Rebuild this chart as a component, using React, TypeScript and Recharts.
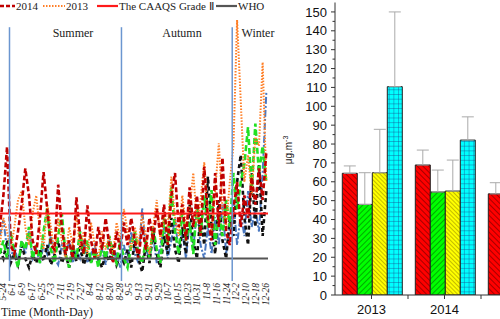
import React from 'react';
import {
    LineChart,
    Line,
    BarChart,
    Bar,
    ErrorBar,
    XAxis,
    YAxis,
    ReferenceLine
} from 'recharts';

// ---- left panel: daily series (every 3rd day, from 5-24) ----
const startDay = 144;
const dayStep = 3;

const series2014 = [
    60, 95, 149, 40, 30, 55, 85, 125, 95, 45,
    30, 70, 121, 80, 40, 35, 107, 60, 30, 45,
    25, 93, 50, 30, 84, 45, 25, 60, 35, 70,
    40, 20, 55, 35, 65, 40, 70, 45, 25, 60,
    35, 70, 45, 80, 50, 85, 40, 95, 120, 60,
    85, 45, 104, 60, 95, 50, 127, 70, 45, 120,
    60, 137, 55, 40, 80, 110, 60, 95, 70, 115,
    85, 125, 90, 143
];
const series2013 = [
    40, 70, 55, 35, 60, 90, 100, 60, 40, 75,
    95, 55, 35, 85, 60, 30, 70, 45, 25, 60,
    40, 75, 35, 55, 30, 65, 40, 25, 55, 35,
    50, 30, 65, 45, 80, 55, 35, 60, 40, 73,
    50, 30, 60, 90, 45, 70, 60, 116, 70, 50,
    95, 60, 80, 120, 65, 90, 132, 70, 55, 100,
    153, 80, 60, 110, 150, 290, 200, 110, 140, 95,
    160, 150, 243, 110
];
const seriesGreen = [
    30, 45, 25, 55, 30, 15, 45, 35, 60, 25,
    40, 20, 55, 81, 35, 20, 50, 75, 30, 15,
    40, 25, 55, 30, 45, 20, 35, 15, 40, 25,
    50, 30, 20, 45, 25, 15, 40, 55, 30, 20,
    45, 25, 60, 35, 20, 70, 40, 104, 55, 30,
    80, 45, 65, 30, 85, 50, 95, 60, 101, 40,
    75, 50, 90, 60, 120, 80, 110, 130, 171, 100,
    175, 120, 150, 110
];
const seriesBlack = [
    35, 25, 45, 20, 30, 18, 40, 25, 15, 30,
    20, 35, 22, 40, 18, 28, 45, 20, 30, 15,
    35, 22, 40, 18, 30, 20, 35, 25, 15, 30,
    22, 40, 18, 28, 20, 35, 15, 45, 25, 10,
    40, 20, 55, 30, 15, 50, 30, 70, 35, 20,
    60, 30, 85, 45, 25, 75, 40, 116, 60, 30,
    90, 45, 25, 70, 50, 110, 140, 70, 40, 120,
    60, 130, 50, 100
];
const seriesBlue = [
    50, 68, 35, 25, 40, 20, 45, 30, 55, 25,
    35, 20, 40, 30, 50, 25, 18, 40, 28, 45,
    20, 35, 25, 45, 20, 30, 40, 22, 35, 18,
    45, 25, 30, 15, 40, 20, 55, 30, 20, 81,
    35, 25, 50, 20, 40, 60, 25, 45, 70, 30,
    55, 25, 65, 35, 80, 40, 25, 60, 30, 71,
    40, 85, 30, 60, 90, 40, 75, 50, 100, 60,
    80, 55, 120, 209
];

const dayLabels = [
    '5-24', '6-1', '6-9', '6-17', '6-25', '7-3', '7-11', '7-19', '7-27',
    '8-4', '8-12', '8-20', '8-28', '9-5', '9-13', '9-21', '9-29', '10-7',
    '10-15', '10-23', '10-31', '11-8', '11-16', '11-24', '12-2', '12-10',
    '12-18', '12-26'
];
const seasonStarts = ['6-1', '9-1', '12-1'];
const seasonNames = ['Summer', 'Autumn', 'Winter'];
const caaqsLimit = 75;
const whoLimit = 25;

// ---- right panel: annual means ----
const years = ['2013', '2014', '2015'];
const redMean = [64.5, 68.9, 53.6];
const redErr = [3.9, 7.9, 5.9];
const greenMean = [48, 54.6, 45];
const greenErr = [16.8, 11.6, 10];
const yellowMean = [64.8, 55.1, 50];
const yellowErr = [23, 16.4, 12];
const cyanMean = [110.4, 82.1, 70];
const cyanErr = [39.6, 12.3, 15];
const valueTicks = [0, 10, 20, 30, 40, 50, 60, 70, 80, 90, 100, 110, 120, 130, 140, 150];

const monthStart = [0, 31, 59, 90, 120, 151, 181, 212, 243, 273, 304, 334];
const toDay = (md: string) => {
    const [m, d] = md.split('-').map(Number);
    return monthStart[m - 1] + d;
};
const tickDays = dayLabels.map(toDay);
const labelByDay: Record<number, string> = {};
dayLabels.forEach((l, i) => { labelByDay[tickDays[i]] = l; });

const lineData = series2014.map((v, i) => ({
    day: startDay + i * dayStep,
    y2014: v,
    y2013: series2013[i],
    green: seriesGreen[i],
    black: seriesBlack[i],
    blue: seriesBlue[i],
}));

const barData = years.map((y, i) => ({
    year: y,
    red: redMean[i], redErr: [0, redErr[i]],
    green: greenMean[i], greenErr: [0, greenErr[i]],
    yellow: yellowMean[i], yellowErr: [0, yellowErr[i]],
    cyan: cyanMean[i], cyanErr: [0, cyanErr[i]],
}));

const SERIF = '"Liberation Serif", "Times New Roman", serif';
const SANS = '"Liberation Sans", Arial, sans-serif';

// bar chart geometry
const BAR_W = 270;
const BAR_H = 319;
const barMargin = { top: 2.5, right: 6, bottom: 2, left: 15 };
const yAxisW = 30;
const xAxisH = 22;
const plotH = BAR_H - barMargin.top - barMargin.bottom - xAxisH;
const unitPx = plotH / 155;
const halfBand = (BAR_W - barMargin.left - yAxisW - barMargin.right) / years.length / 2;

const DayTick = (props: any) => {
    const { x, y, payload } = props;
    return (
        <text
            transform={`translate(${x + 3},${y}) rotate(-90)`}
            textAnchor="end"
            dominantBaseline="central"
            fontSize={9.5}
            fontStyle="italic"
            fontFamily={SERIF}
            fill="#222"
        >
            {labelByDay[payload.value]}
        </text>
    );
};

const ValueTick = (props: any) => {
    const { x, y, payload } = props;
    const axisX = x + 8;
    return (
        <g>
            <text x={x} y={y} dy="0.355em" textAnchor="end" fontSize={13} fontFamily={SANS} fill="#111">
                {payload.value}
            </text>
            {payload.value > 0 && (
                <line x1={axisX - 2.5} x2={axisX} y1={y + 5 * unitPx} y2={y + 5 * unitPx} stroke="#333" />
            )}
        </g>
    );
};

const YearTick = (props: any) => {
    const { x, y, payload } = props;
    const axisY = y - 10;
    return (
        <g>
            <text x={x} y={y} dy="0.71em" textAnchor="middle" fontSize={13} fontFamily={SANS} fill="#111">
                {payload.value}
            </text>
            <line x1={x + halfBand} x2={x + halfBand} y1={axisY} y2={axisY + 4} stroke="#333" />
        </g>
    );
};

const LegendItem = ({ left, width, stroke, dash, sw, label }: any) => (
    <>
        <svg style={{ position: 'absolute', left, top: 2 }} width={width} height={8}>
            <line x1={0} x2={width} y1={4} y2={4} stroke={stroke} strokeWidth={sw} strokeDasharray={dash} />
        </svg>
        <span style={{ position: 'absolute', left: left + width + 1, top: 0, fontSize: 11, lineHeight: '12px', fontFamily: SERIF, color: '#222', whiteSpace: 'nowrap' }}>
            {label}
        </span>
    </>
);

export default function App() {
    const seasonX = [73, 182, 258];
    return (
        <div style={{ position: 'fixed', left: 0, top: 0, width: 500, height: 319, overflow: 'hidden', background: '#fff' }}>
            {/* left: daily series */}
            <div style={{ position: 'absolute', left: 0, top: 0 }}>
                <LineChart width={272} height={319} data={lineData} margin={{ top: 11, right: 4, bottom: 8, left: 0 }}>
                    <XAxis
                        type="number"
                        dataKey="day"
                        domain={[144.2, 364.4]}
                        allowDataOverflow
                        ticks={tickDays}
                        interval={0}
                        height={30}
                        tickSize={0}
                        tickMargin={2}
                        axisLine={false}
                        tickLine={false}
                        tick={(p: any) => <DayTick {...p} />}
                    />
                    <YAxis hide domain={[0, 300]} allowDataOverflow />
                    <Line dataKey="blue" type="linear" dot={false} stroke="#4a78c0" strokeWidth={2} strokeDasharray="7 2 2 2" isAnimationActive={false} />
                    <Line dataKey="black" type="linear" dot={false} stroke="#111" strokeWidth={2.6} strokeDasharray="4 3" isAnimationActive={false} />
                    <Line dataKey="green" type="linear" dot={false} stroke="#22e022" strokeWidth={2.6} strokeDasharray="6 3" isAnimationActive={false} />
                    <Line dataKey="y2013" type="linear" dot={false} stroke="#ff7f27" strokeWidth={2} strokeDasharray="1.5 1.5" isAnimationActive={false} />
                    <Line dataKey="y2014" type="linear" dot={false} stroke="#c00000" strokeWidth={2.6} strokeDasharray="5 2.5" isAnimationActive={false} />
                    <ReferenceLine y={caaqsLimit} stroke="#ff1a1a" strokeWidth={2.2} />
                    <ReferenceLine y={whoLimit} stroke="#555" strokeWidth={2.2} />
                    {seasonStarts.map((s) => (
                        <ReferenceLine
                            key={s}
                            segment={[{ x: toDay(s), y: 0 }, { x: toDay(s), y: 282 }]}
                            stroke="#6b96d0"
                            strokeWidth={1.5}
                        />
                    ))}
                </LineChart>
            </div>

            {seasonNames.map((n, i) => (
                <span key={n} style={{ position: 'absolute', left: seasonX[i], top: 26, transform: 'translateX(-50%)', fontSize: 12, lineHeight: '14px', fontFamily: SERIF, color: '#222' }}>
                    {n}
                </span>
            ))}

            <LegendItem left={0} width={15} stroke="#c00000" sw={2.5} dash="4 2" label="2014" />
            <LegendItem left={43} width={22} stroke="#ff7f27" sw={2} dash="1.5 1.5" label="2013" />
            <LegendItem left={97} width={21} stroke="#ff1a1a" sw={2.2} label="The CAAQS Grade Ⅱ" />
            <LegendItem left={216} width={21} stroke="#555" sw={2.2} label="WHO" />

            <span style={{ position: 'absolute', left: 1, top: 305, fontSize: 12, lineHeight: '14px', fontFamily: SERIF, color: '#222' }}>
                Time (Month-Day)
            </span>

            {/* right: annual means */}
            <div style={{ position: 'absolute', left: 290, top: 0 }}>
                <BarChart width={BAR_W} height={BAR_H} data={barData} margin={barMargin} barCategoryGap="10%" barGap={0}>
                    <defs>
                        <pattern id="hatchRed" patternUnits="userSpaceOnUse" width={4} height={4} patternTransform="rotate(-45)">
                            <rect width={4} height={4} fill="#ff0000" />
                            <line x1={0} y1={0} x2={0} y2={4} stroke="#6a0000" strokeWidth={1.2} />
                        </pattern>
                        <pattern id="hatchGreen" patternUnits="userSpaceOnUse" width={4} height={4} patternTransform="rotate(45)">
                            <rect width={4} height={4} fill="#00ff00" />
                            <line x1={0} y1={0} x2={0} y2={4} stroke="#006600" strokeWidth={1.1} />
                        </pattern>
                        <pattern id="hatchYellow" patternUnits="userSpaceOnUse" width={3} height={3} patternTransform="rotate(-45)">
                            <rect width={3} height={3} fill="#ffff00" />
                            <line x1={0} y1={0} x2={0} y2={3} stroke="#7a6a00" strokeWidth={0.9} />
                        </pattern>
                        <pattern id="gridCyan" patternUnits="userSpaceOnUse" width={4.7} height={4.7}>
                            <rect width={4.7} height={4.7} fill="#00ffff" />
                            <path d="M0 0 H4.7 M0 0 V4.7" stroke="#1a4a8a" strokeWidth={0.8} />
                        </pattern>
                    </defs>
                    <XAxis
                        dataKey="year"
                        height={xAxisH}
                        tickSize={4}
                        tickMargin={6}
                        stroke="#333"
                        tick={(p: any) => <YearTick {...p} />}
                    />
                    <YAxis
                        width={yAxisW}
                        domain={[0, 155]}
                        ticks={valueTicks}
                        interval={0}
                        tickSize={4}
                        tickMargin={4}
                        stroke="#333"
                        allowDataOverflow
                        tick={(p: any) => <ValueTick {...p} />}
                    />
                    <Bar dataKey="red" fill="url(#hatchRed)" stroke="#222" strokeWidth={1} isAnimationActive={false}>
                        <ErrorBar dataKey="redErr" direction="y" width={6} stroke="#aaa" strokeWidth={1} />
                    </Bar>
                    <Bar dataKey="green" fill="url(#hatchGreen)" stroke="#222" strokeWidth={1} isAnimationActive={false}>
                        <ErrorBar dataKey="greenErr" direction="y" width={6} stroke="#aaa" strokeWidth={1} />
                    </Bar>
                    <Bar dataKey="yellow" fill="url(#hatchYellow)" stroke="#222" strokeWidth={1} isAnimationActive={false}>
                        <ErrorBar dataKey="yellowErr" direction="y" width={6} stroke="#aaa" strokeWidth={1} />
                    </Bar>
                    <Bar dataKey="cyan" fill="url(#gridCyan)" stroke="#222" strokeWidth={1} isAnimationActive={false}>
                        <ErrorBar dataKey="cyanErr" direction="y" width={6} stroke="#aaa" strokeWidth={1} />
                    </Bar>
                </BarChart>
            </div>

            <div style={{ position: 'absolute', left: 288, top: 150, transform: 'translate(-50%, -50%) rotate(-90deg)', fontSize: 10, fontFamily: SANS, color: '#222', whiteSpace: 'nowrap' }}>
                μg.m<sup style={{ fontSize: 7 }}>-3</sup>
            </div>
        </div>
    );
}
